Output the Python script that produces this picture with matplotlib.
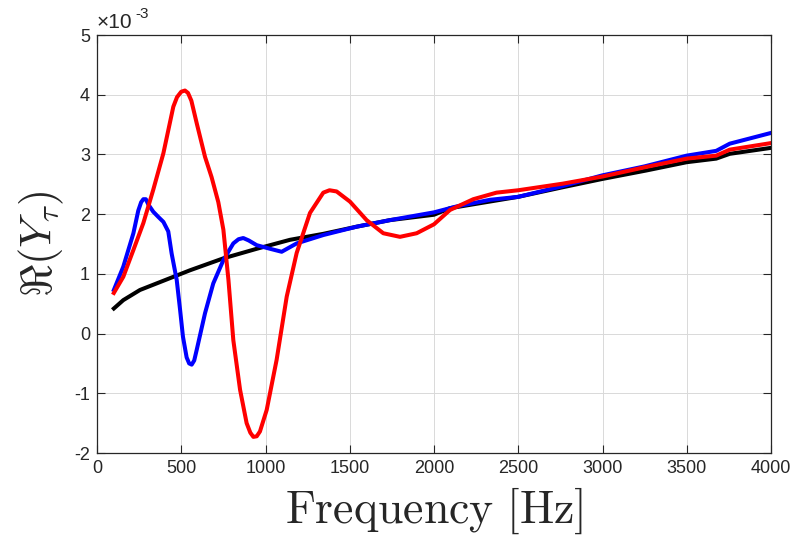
import matplotlib
matplotlib.use("Agg")
import matplotlib.pyplot as plt
import numpy as np

plt.rcParams['mathtext.fontset'] = 'cm'

freq_black = [100, 156, 255, 354, 453, 552, 750, 948, 1145, 1343, 1541, 1739,
              2000, 2095, 2500, 2763, 3000, 3258, 3500, 3675, 3755, 4000]
val_black = [0.42, 0.56, 0.73, 0.84, 0.95, 1.06, 1.26, 1.42, 1.57, 1.67, 1.79, 1.90,
             1.99, 2.10, 2.29, 2.45, 2.59, 2.73, 2.87, 2.93, 3.01, 3.11]

freq_blue = [100, 156, 216, 245, 262, 275, 290, 305, 334, 365, 394, 423, 443, 473,
             493, 510, 532, 547, 562, 577, 592, 641, 690, 750, 809, 840, 868, 900,
             948, 1027, 1096, 1185, 1343, 1541, 1739, 2000, 2135, 2332, 2500, 2750,
             3000, 3250, 3500, 3675, 3755, 4000]
val_blue = [0.73, 1.12, 1.68, 2.06, 2.20, 2.25, 2.25, 2.16, 2.04, 1.95, 1.87, 1.71,
            1.34, 0.90, 0.40, -0.05, -0.40, -0.50, -0.52, -0.45, -0.27, 0.34, 0.84,
            1.23, 1.51, 1.58, 1.60, 1.56, 1.48, 1.42, 1.37, 1.51, 1.65, 1.79, 1.90,
            2.03, 2.13, 2.24, 2.29, 2.46, 2.65, 2.80, 2.98, 3.06, 3.18, 3.36]

freq_red = [100, 156, 216, 275, 334, 394, 453, 475, 500, 522, 540, 560, 592, 641,
            680, 720, 750, 780, 809, 849, 888, 910, 928, 948, 967, 1007, 1066, 1126,
            1185, 1264, 1343, 1380, 1422, 1501, 1600, 1699, 1798, 1897, 2000, 2095,
            2233, 2371, 2500, 2763, 3000, 3258, 3500, 3675, 3755, 4000]
val_red = [0.68, 0.95, 1.40, 1.85, 2.41, 3.02, 3.80, 3.96, 4.05, 4.07, 4.03, 3.90,
           3.52, 2.96, 2.62, 2.20, 1.74, 0.90, -0.11, -0.94, -1.50, -1.66, -1.73,
           -1.72, -1.64, -1.28, -0.44, 0.62, 1.35, 2.02, 2.36, 2.40, 2.38, 2.21,
           1.90, 1.68, 1.62, 1.68, 1.83, 2.07, 2.25, 2.36, 2.40, 2.51, 2.63, 2.79,
           2.93, 2.98, 3.08, 3.19]

xticks = [0, 500, 1000, 1500, 2000, 2500, 3000, 3500, 4000]
yticks = [-2, -1, 0, 1, 2, 3, 4, 5]

tc = '#262626'
fig = plt.figure(figsize=(7.96, 5.37), dpi=100)
ax = fig.add_axes([97/796, 1-453/537, (771-97)/796, (453-35)/537])

ax.plot(freq_black, val_black, color='black', lw=2.9, solid_joinstyle='round')
ax.plot(freq_blue, val_blue, color='#0000ff', lw=2.9, solid_joinstyle='round')
ax.plot(freq_red, val_red, color='#ff0000', lw=2.9, solid_joinstyle='round')

ax.set_xlim(0, 4000)
ax.set_ylim(-2, 5)
ax.set_xticks(xticks)
ax.set_yticks(yticks)
ax.set_xticklabels([str(t) for t in xticks], fontfamily='Liberation Sans', fontsize=13, color=tc)
ax.set_yticklabels([str(t) for t in yticks], fontfamily='Liberation Sans', fontsize=13, color=tc)
ax.tick_params(direction='in', length=6, width=0.8, top=True, right=True, colors=tc, pad=5)
ax.grid(True, color='#d9d9d9', lw=0.7)
ax.set_axisbelow(True)
for s in ax.spines.values():
    s.set_color(tc)
    s.set_linewidth(0.9)

ax.set_xlabel(r'$\mathrm{Frequency\ [Hz]}$', fontsize=33, color=tc, labelpad=6)
ax.set_ylabel(r'$\Re(Y_\tau)$', fontsize=32, color=tc, labelpad=6)

fig.text(97/796, 1-22/537, '×10', fontfamily='Liberation Sans', fontsize=15, color=tc, va='center', ha='left')
fig.text(135/796, 1-14/537, '-3', fontfamily='Liberation Sans', fontsize=11, color=tc, va='center', ha='left')

fig.savefig('out.png', dpi=100)
